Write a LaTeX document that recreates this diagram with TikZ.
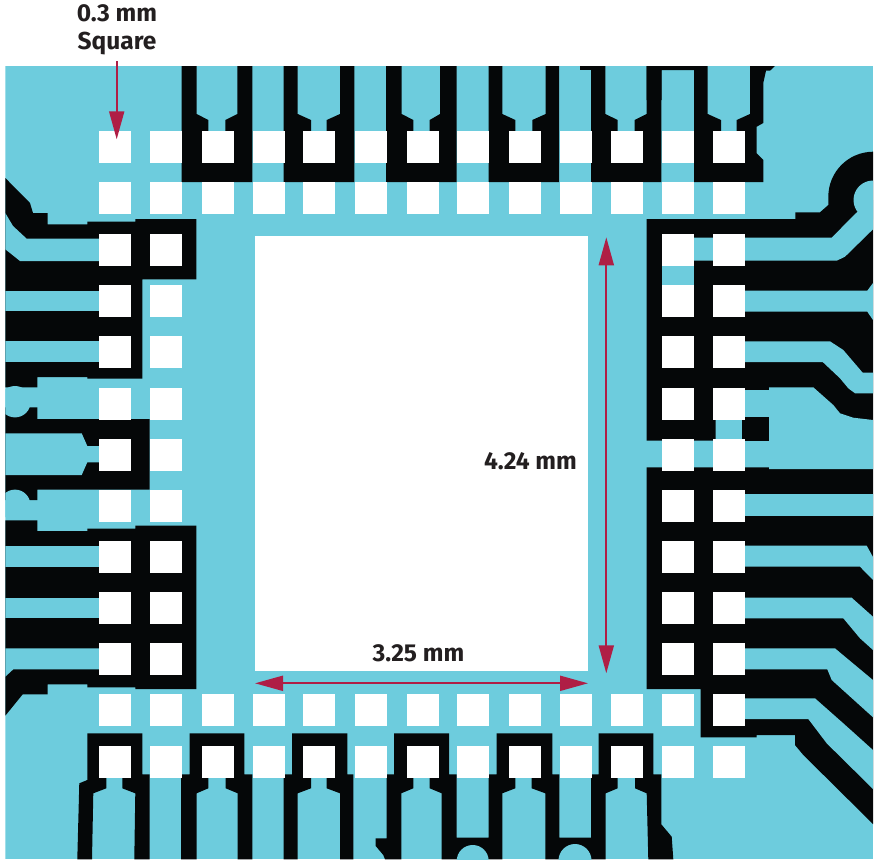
\documentclass[tikz,border=0pt]{standalone}
\usepackage{fontspec}
\setmainfont{Fira Sans}
\usetikzlibrary{arrows.meta}
\definecolor{planeteal}{HTML}{6DCCDD}
\definecolor{copperblack}{HTML}{050708}
\definecolor{dimred}{HTML}{AF1E45}
\definecolor{dimtext}{HTML}{231F20}
\begin{document}
\begin{tikzpicture}[
    x=1pt, y=-1pt,
    plane/.style={fill=planeteal},
    copper/.style={fill=copperblack},
    padsq/.style={fill=white},
    dim label/.style={font=\fontsize{24.5}{28}\selectfont\bfseries, text=dimtext, align=center, inner sep=0pt},
    dim arrow/.style={draw=dimred, line width=2pt, -{Triangle[length=28pt,width=15pt,fill=dimred]}},
    dim both/.style={dim arrow, {Triangle[length=28pt,width=15pt,fill=dimred]}-{Triangle[length=28pt,width=15pt,fill=dimred]}},
    ]
\useasboundingbox (0,0) rectangle (879,865);
\begin{scope}
\clip (5.3,66) rectangle (873,859.3);
\fill[plane] (5.3,66) rectangle (873,859.3);
% top row
\foreach \xa/\xb/\xc/\xd/\xe/\xf in {181.7/196.7/208.3/225.3/237.3/252.3, 283.7/297.7/311/326.7/340/354.3, 386/401.7/413.3/429.7/440/456.7, 488.7/502.3/515.3/532.3/545.7/559, 591/605.3/617.7/634.7/646.7/661.3}
  \fill[copper] (\xa,66) -- (\xb,66) -- (\xb,114) -- (\xc,120) -- (\xc,140) -- (\xd,140) -- (\xd,120) -- (\xe,114) -- (\xe,66) -- (\xf,66) -- (\xf,182) -- (\xa,182) -- cycle;
\fill[copper] (580,66) -- (591,66) -- (591,70) -- (580,70) -- cycle;
\fill[copper] (646.7,66) -- (707.7,66) -- (707.7,114) -- (721,120) -- (721,140) -- (736.7,140) -- (736.7,120) -- (750,114) -- (750,66) -- (775,66) -- (770,70.7) -- (766,70.7) -- (763.3,83) -- (763.3,123) -- (756.7,126.7) -- (756.7,153.3) -- (763.3,160) -- (763.3,182) -- (694,182) -- (694,70) -- (661.7,70) -- (661.7,100) -- (646.7,100) -- cycle;
% left side
\fill[copper] (0,178) -- (5.3,178) -- (30,203) -- (33,213) -- (47.7,213) -- (47.7,224.3) -- (87.3,224.3) -- (87.3,221.7) -- (135.3,221.7) -- (135.3,219) -- (196.3,219) -- (196.3,279.3) -- (142.3,279.3) -- (142.3,378.7) -- (87.3,378.7) -- (87.3,377) -- (37.3,377) -- (37.3,387.3) -- (0,387.3) -- cycle;
\fill[plane] (0,213) -- (5.3,213) -- (13,226) -- (26.7,238.7) -- (100,238.7) -- (100,261) -- (20,261) -- (5.3,249.3) -- (0,249.3) -- cycle;
\fill[plane] (0,290.7) rectangle (100,311.3);
\fill[plane] (0,341.3) rectangle (100,362);
\fill[copper] (0,407.3) -- (37.3,407.3) -- (37.3,419) -- (149.7,419) -- (149.7,489.7) -- (37.3,489.7) -- (37.3,500) -- (0,500) -- cycle;
\fill[plane] (0,433.3) -- (81.7,433.3) -- (87.3,446) -- (100,446) -- (100,462.3) -- (87.3,462.3) -- (81.7,475) -- (0,475) -- cycle;
\fill[plane] (15,401.7) circle [radius=15.7pt];
\fill[plane] (15,505) circle [radius=15.4pt];
\fill[copper] (0,520.3) -- (37.3,520.3) -- (37.3,531) -- (87.3,531) -- (87.3,528.7) -- (135.3,528.7) -- (135.3,525.7) -- (196.3,525.7) -- (196.3,689) -- (135.3,689) -- (135.3,687.3) -- (87.3,687.3) -- (87.3,684.3) -- (47.7,684.3) -- (47.7,694.3) -- (22.7,694.3) -- (5.3,715.7) -- (0,715.7) -- cycle;
\fill[plane] (0,545.7) rectangle (100,566.7);
\fill[plane] (0,597.7) rectangle (100,618.3);
\fill[plane] (0,676.7) -- (5.3,676.7) -- (13.3,669.3) -- (100,669.3) -- (100,648.3) -- (0,648.3) -- cycle;
% right side
\fill[copper] (646.7,219) -- (795.3,219) -- (795.3,212.3) -- (820,212.3) -- (828.3,205) -- (828.3,197) .. controls (828.3,172) and (848,152) .. (873,151.7) -- (880,151.7) -- (880,824) -- (873,824) -- (803.3,755) -- (795,745) -- (795,735) -- (756.7,735) -- (756.7,737.3) -- (700.7,737.3) -- (700.7,689) -- (646.7,689) -- cycle;
\fill[plane] (694,237.7) -- (831.7,237.7) -- (855.7,213.3) -- (873,200) -- (880,200) -- (880,229.3) -- (873,229.3) -- (845,256.7) -- (836.7,260.7) -- (694,260.7) -- cycle;
\fill[plane] (873,200) circle [radius=19.5pt];
\fill[plane] (661.7,266) rectangle (694,285);
\fill[plane] (744,290.7) -- (867.3,290.7) -- (873,283) -- (880,283) -- (880,320) -- (873,320) -- (867.3,311.7) -- (744,311.7) -- cycle;
\fill[plane] (744,341.3) -- (830,341.3) -- (843.3,350) -- (862.7,372.7) -- (880,372.7) -- (880,393.3) -- (855,393.3) -- (848.3,388.3) -- (840,378.3) -- (822.7,362) -- (744,362) -- cycle;
\fill[plane] (744,390) -- (769,390) -- (769,387.3) -- (813.3,387.3) -- (833.3,405) -- (840,413.3) -- (853.3,417.7) -- (873,420) -- (880,420) -- (880,469) -- (769,469) -- (769,467.3) -- (640,467.3) -- (640,440.7) -- (715.7,440.7) -- (715.7,420) -- (744,420) -- cycle;
\fill[copper] (742,417.3) rectangle (769,440.7);
\fill[plane] (744,494.3) rectangle (880,516);
\fill[plane] (744,545.7) -- (866.7,545.7) -- (873,557) -- (880,557) -- (880,580) -- (873,580) -- (860,566.7) -- (744,566.7) -- cycle;
\fill[plane] (744,597.7) -- (851.7,597.7) -- (873,616.7) -- (880,616.7) -- (880,650) -- (873,650) -- (860,638.3) -- (843.3,618.3) -- (744,618.3) -- cycle;
\fill[plane] (744,648.3) -- (835,648.3) -- (845,656.7) -- (873,680) -- (880,680) -- (880,717.3) -- (873,717.3) -- (831.7,680) -- (827.3,669.3) -- (744,669.3) -- cycle;
\fill[plane] (744,698.3) -- (815,698.3) -- (843.3,723.3) -- (873,750) -- (880,750) -- (880,789) -- (873,789) -- (826.7,743.3) -- (808.3,719) -- (744,719) -- cycle;
% bottom row
\fill[copper] (87.3,733.3) -- (142.3,733.3) -- (142.3,774.3) -- (149.7,774.3) -- (149.7,859.3) -- (134.3,859.3) -- (135.3,793.3) -- (122.3,788.3) -- (122.3,770) -- (106.3,770) -- (106.3,788.3) -- (93.3,793.3) -- (92,859.3) -- (77.3,859.3) -- (79.3,783.3) -- (87.3,780) -- cycle;
\foreach \xa/\xb/\xc/\xd/\xe/\xf/\xg/\xh in {181/189.7/196.7/208.3/225.7/237.7/244.3/252.3, 283.7/292/297.7/311/326.7/340/347.3/353.3}
  \fill[copper] (\xa,774.3) -- (\xb,774.3) -- (\xb,733.3) -- (\xg,733.3) -- (\xg,774.3) -- (\xh,774.3) -- (\xh,859.3) -- (\xf,859.3) -- (\xf,793.3) -- (\xe,788.3) -- (\xe,770) -- (\xd,770) -- (\xd,788.3) -- (\xc,793.3) -- (\xc,859.3) -- (\xa,859.3) -- cycle;
\fill[copper] (394,733.3) -- (449,733.3) -- (449,774.3) -- (456.7,774.3) -- (456.7,837.7) -- (488.7,837.7) -- (488.7,774.3) -- (496.7,774.3) -- (496.7,733.3) -- (552.3,733.3) -- (552.3,774.3) -- (559.3,774.3) -- (559.3,837.7) -- (591,837.7) -- (591,774.3) -- (598.7,774.3) -- (598.7,733.3) -- (653.3,733.3) -- (653.3,774.3) -- (661.3,774.3) -- (661.3,824.3) -- (671.7,836.7) -- (673.3,859.3) -- (648.3,859.3) -- (646.7,793.3) -- (635,788.3) -- (635,770) -- (617.7,770) -- (617.7,788.3) -- (605.7,793.3) -- (605.7,859.3) -- (545.3,859.3) -- (545.3,793.3) -- (531.7,788.3) -- (531.7,770) -- (515.3,770) -- (515.3,788.3) -- (502.3,793.3) -- (502.3,859.3) -- (441.7,859.3) -- (441.7,793.3) -- (429.7,788.3) -- (429.7,770) -- (413.3,770) -- (413.3,788.3) -- (401.3,793.3) -- (401.3,859.3) -- (385,859.3) -- (383.3,855) -- (375.7,846) -- (375.7,838.3) -- (386.7,838.3) -- (386.7,774.3) -- (394,774.3) -- cycle;
\fill[plane] (472.7,861) circle [radius=16pt];
\fill[plane] (575,860.5) circle [radius=16.5pt];
\end{scope}
% pads
\foreach \x in {99,150,202,253,303,355,406.5,457,509,559.5,611,662,713}
  \foreach \y in {131,182,694,746}
    \fill[padsq] (\x,\y) rectangle ++(32,32);
\foreach \x in {99,150,662,713}
  \foreach \y in {234.3,285.3,336,388,438.5,489.7,540.5,592.3,643.2}
    \fill[padsq] (\x,\y) rectangle ++(32,32);
\fill[padsq] (255,236.3) rectangle (588,671.3);
% dimensions
\node[dim label] (squareLabel) at (117,30) {0.3 mm\\Square};
\node[dim label] (heightLabel) at (530.5,461) {4.24 mm};
\node[dim label] (widthLabel) at (418.5,653) {3.25 mm};
\coordinate (squareStart) at (116.7,61);
\coordinate (squareEnd) at (116.7,139.3);
\coordinate (heightTop) at (606.3,237.3);
\coordinate (heightBot) at (606.3,673.3);
\coordinate (widthLeft) at (255,683.3);
\coordinate (widthRight) at (588,683.3);
\draw[dim arrow] (squareStart) -- (squareEnd);
\draw[dim both] (heightTop) -- (heightBot);
\draw[dim both] (widthLeft) -- (widthRight);
\end{tikzpicture}
\end{document}
